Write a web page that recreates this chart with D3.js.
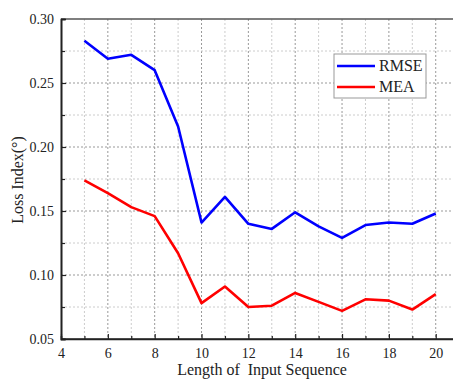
<!DOCTYPE html>
<html>
<head>
<meta charset="utf-8">
<script src="https://cdn.jsdelivr.net/npm/d3@7"></script>
<style>
  body { margin: 0; background: #fff; }
  svg { display: block; }
  svg text { font-family: "Liberation Serif", "Times New Roman", "DejaVu Serif", "Noto Serif", Times, serif; }
</style>
</head>
<body>
<svg id="chart" width="453" height="379"></svg>
<script>
// sequence lengths on the x axis
var lengths = [5, 6, 7, 8, 9, 10, 11, 12, 13, 14, 15, 16, 17, 18, 19, 20];

// loss values
var rmse = [0.283, 0.269, 0.272, 0.260, 0.216, 0.141, 0.161, 0.140, 0.136, 0.149, 0.138, 0.129, 0.139, 0.141, 0.140, 0.148];
var mea  = [0.174, 0.164, 0.153, 0.146, 0.117, 0.078, 0.091, 0.075, 0.076, 0.086, 0.079, 0.072, 0.081, 0.080, 0.073, 0.085];

var xTicks = [4, 6, 8, 10, 12, 14, 16, 18, 20];
var yTicks = [0.05, 0.10, 0.15, 0.20, 0.25, 0.30];
var seriesNames = ["RMSE", "MEA"];
var seriesColors = ["#0000ff", "#ff0000"];

var margin = {top: 19, left: 61, bottom: 40};
var svg = d3.select("#chart");
var H = 379;

// plot runs off the right edge like the original
var x = d3.scaleLinear().domain([4, 21]).range([margin.left, margin.left + 17 * 23.42]);
var y = d3.scaleLinear().domain([0.05, 0.30]).range([H - margin.bottom, margin.top]);

// grid: minor lines lighter, major ones darker
var g = svg.append("g");
d3.range(5, 22).forEach(function(v) {
  g.append("line")
      .attr("x1", x(v)).attr("x2", x(v))
      .attr("y1", y(0.30)).attr("y2", y(0.05))
      .attr("stroke", v % 2 === 0 ? "#999" : "#ccc")
      .attr("stroke-width", 1)
      .attr("stroke-dasharray", "2,2");
});
d3.range(0.075, 0.30, 0.025).forEach(function(v, i) {
  g.append("line")
      .attr("x1", x(4)).attr("x2", 453)
      .attr("y1", y(v)).attr("y2", y(v))
      .attr("stroke", i % 2 === 1 ? "#999" : "#ccc")
      .attr("stroke-width", 1)
      .attr("stroke-dasharray", "2,2");
});

// top frame
svg.append("line")
    .attr("x1", x(4)).attr("x2", 453)
    .attr("y1", y(0.30)).attr("y2", y(0.30))
    .attr("stroke", "#555").attr("stroke-width", 1.5);

// axes with inward ticks
var xAxis = svg.append("g")
    .attr("transform", "translate(0," + y(0.05) + ")")
    .call(d3.axisBottom(x).tickValues(xTicks).tickSize(-5).tickPadding(9).tickFormat(d3.format("d")));
var xMinor = svg.append("g")
    .attr("transform", "translate(0," + y(0.05) + ")")
    .call(d3.axisBottom(x).tickValues(d3.range(5, 21, 2)).tickSize(-3).tickFormat(""));
var yAxis = svg.append("g")
    .attr("transform", "translate(" + x(4) + ",0)")
    .call(d3.axisLeft(y).tickValues(yTicks).tickSize(-5).tickPadding(7).tickFormat(d3.format(".2f")));
var yMinor = svg.append("g")
    .attr("transform", "translate(" + x(4) + ",0)")
    .call(d3.axisLeft(y).tickValues(d3.range(0.075, 0.30, 0.05)).tickSize(-4).tickFormat(""));

[xAxis, xMinor, yAxis, yMinor].forEach(function(a) {
  a.attr("font-family", null);
  a.select(".domain").attr("stroke", "#222").attr("stroke-width", 1.6);
  a.selectAll(".tick line").attr("stroke", "#222").attr("stroke-width", 1.2);
  a.selectAll("text").attr("font-size", 14).attr("fill", "#222");
});
xAxis.select(".domain").attr("d", "M" + x(4) + ",0H453");

// series lines
var line = d3.line()
    .x(function(d, i) { return x(lengths[i]); })
    .y(function(d) { return y(d); });

[rmse, mea].forEach(function(s, k) {
  svg.append("path")
      .datum(s)
      .attr("fill", "none")
      .attr("stroke", seriesColors[k])
      .attr("stroke-width", 2.6)
      .attr("stroke-linejoin", "round")
      .attr("d", line);
});

// axis titles
svg.append("text")
    .attr("x", 262).attr("y", 375)
    .attr("text-anchor", "middle")
    .attr("font-size", 16).attr("fill", "#222")
    .attr("xml:space", "preserve")
    .text("Length of  Input Sequence");

svg.append("text")
    .attr("transform", "translate(23,180) rotate(-90)")
    .attr("text-anchor", "middle")
    .attr("font-size", 16).attr("fill", "#222")
    .text("Loss Index(°)");

// legend
var legend = svg.append("g").attr("transform", "translate(334,54)");
legend.append("rect")
    .attr("width", 92).attr("height", 44)
    .attr("fill", "#fff").attr("stroke", "#999").attr("stroke-width", 1);
seriesNames.forEach(function(name, i) {
  legend.append("line")
      .attr("x1", 3).attr("x2", 41)
      .attr("y1", 12 + i * 21).attr("y2", 12 + i * 21)
      .attr("stroke", seriesColors[i]).attr("stroke-width", 2.6);
  legend.append("text")
      .attr("x", 45).attr("y", 17 + i * 21)
      .attr("font-size", 16).attr("fill", "#222")
      .text(name);
});
</script>
</body>
</html>
